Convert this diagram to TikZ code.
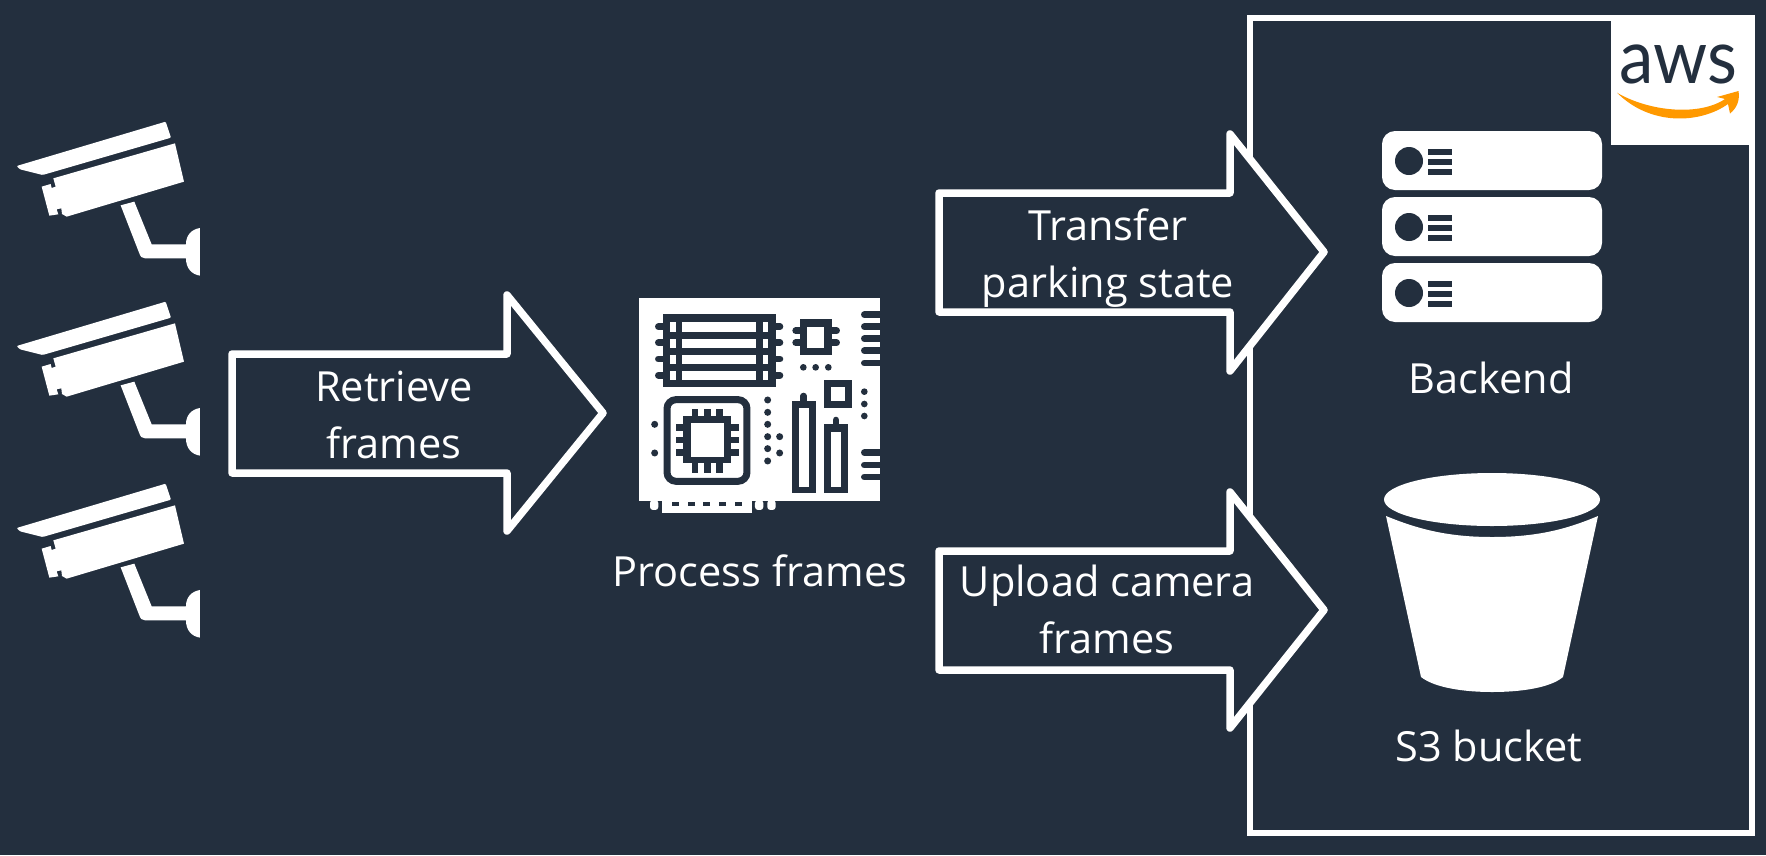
\documentclass[tikz,border=0pt]{standalone}
\usepackage{fontspec}
\setmainfont{Open Sans}
\newfontfamily\logofont{Lato}
\definecolor{ink}{HTML}{232F3E}
\definecolor{smile}{HTML}{FF9900}
\tikzset{
  blockarrow/.style={draw=white,fill=ink,line width=7.5pt,line join=round},
  label/.style={text=white,font=\fontsize{41.5}{57}\selectfont,align=center,inner sep=0pt},
  ink line/.style={draw=ink,line cap=round,line width=6.6pt},
}
\newcommand{\camicon}[2]{%
  \begin{scope}[shift={(0,#1)},x=0.3333pt,y=-0.3333pt]
    \coordinate (#2) at (300,300);
    \fill[white,rounded corners=1pt] (50,198) -- (497,65) -- (513,113) -- (128,225) -- (60,208) -- cycle;
    \fill[white] (160,235) -- (525,130) -- (552,245) -- (200,350) -- (186,342) -- (184,325) -- (170,328) -- (175,343) -- (148,347) -- (125,260) -- (152,252) -- (155,264) -- (167,260) -- cycle;
    \fill[white] (362,316) -- (403,305) -- (455,433) -- (558,433) .. controls (558,405) and (575,388) .. (600,384) -- (600,527) .. controls (575,523) and (558,505) .. (558,475) -- (435,475) .. controls (425,475) and (422,470) .. (418,460) -- cycle;
  \end{scope}}
\begin{document}
\begin{tikzpicture}[x=1pt,y=-1pt]
\useasboundingbox (0,0) rectangle (1766,855);
\fill[ink] (0,0) rectangle (1766,855);

% AWS box
\draw[white,line width=5.5pt] (1250,18) rectangle (1752,833);
\fill[white] (1611,15) rectangle (1755,145);
\node[inner sep=0pt,anchor=base,text=ink] (awstext) at (1678,83) {\logofont\fontsize{75}{75}\selectfont\scalebox{.92}[1]{aws}};
\fill[smile] (1617,92.7) .. controls (1650,112) and (1700,116) .. (1725,99) -- (1717,97) -- (1738.5,91) .. controls (1740,100) and (1737,108) .. (1730,113.5) -- (1728,104) .. controls (1700,124) and (1650,126) .. cycle;

% Cameras
\camicon{100}{cama}
\camicon{280}{camb}
\camicon{462}{camc}

% Board
\begin{scope}[shift={(620,280)},x=0.3333pt,y=-0.3333pt]
  \fill[white] (57,54) rectangle (780,664);
  \fill[white] (127,660) rectangle (395,700);
  \foreach \a in {90,405,442} \fill[white,rounded corners=3pt] (\a,660) -- (\a,690) -- (\a+25,690) -- (\a+25,660) -- cycle;
  \foreach \a in {155,203,250,298,346} \fill[ink] (\a,665) rectangle (\a+21,677);
  % ram
  \fill[ink] (130,102) rectangle (467,322);
  \foreach \a/\b in {127/155,176/203,224/252,273/301} {
    \fill[white] (150,\a) rectangle (167,\b);
    \fill[white] (187,\a) rectangle (408,\b);
    \fill[white] (428,\a) rectangle (445,\b);
  }
  \foreach \a in {140,188,237,286} {
    \draw[ink line] (115,\a) -- (130,\a);
    \draw[ink line] (467,\a) -- (480,\a);
  }
  % small chip
  \fill[ink] (540,117) rectangle (635,225);
  \fill[white] (560,140) rectangle (613,203);
  \foreach \a in {152,188} {
    \draw[ink line] (527,\a) -- (540,\a);
    \draw[ink line] (635,\a) -- (650,\a);
  }
  \foreach \a in {550,587,625} \fill[ink] (\a,262) circle (10);
  % edge contacts
  \foreach \a in {104,140,176,212,249,518,555,591} \draw[ink line] (733,\a) -- (780,\a);
  \fill[ink] (780,50) rectangle (805,670);
  % square
  \fill[ink] (613,300) rectangle (697,385);
  \fill[white] (634,322) rectangle (675,363);
  \foreach \a in {335,372,408} \fill[ink] (733,\a) circle (10);
  % cpu
  \draw[ink,line width=7pt,rounded corners=9pt] (141,359) rectangle (381,604);
  \fill[ink] (190,408) rectangle (333,550);
  \fill[white] (212,430) rectangle (312,530);
  \foreach \a in {225,262,298} {
    \fill[ink] (\a-10,387) rectangle (\a+10,408);
    \fill[ink] (\a-10,550) rectangle (\a+10,578);
  }
  \foreach \a in {443,480,517} {
    \fill[ink] (167,\a-10) rectangle (190,\a+10);
    \fill[ink] (333,\a-10) rectangle (358,\a+10);
  }
  \foreach \a/\b in {104/433,104/519,443/360,443/397,443/433,443/470,443/506,443/543,479/470,479/519} \fill[ink] (\a,\b) circle (10.5);
  % slots
  \fill[ink] (517,363) rectangle (587,640);
  \fill[white] (538,385) rectangle (566,620);
  \draw[ink line] (551,348) -- (551,363);
  \fill[ink] (613,433) rectangle (683,640);
  \fill[white] (634,455) rectangle (662,620);
  \draw[ink line] (648,420) -- (648,433);
\end{scope}

% Servers
\foreach \t in {131,197,263} {
  \fill[white,rounded corners=13pt] (1382,\t) rectangle (1602,\t+59);
  \fill[ink] (1409,\t+30) circle (14);
  \foreach \d in {20.5,30.5,40.5} \fill[ink] (1428,\t+\d-3) rectangle (1452,\t+\d+3);
}

% Bucket
\fill[white] (1492,499.5) ellipse (108 and 26.5);
\fill[white] (1386,516) .. controls (1420,530) and (1450,537) .. (1492,537) .. controls (1535,537) and (1565,530) .. (1598,516) -- (1563,677) .. controls (1550,688) and (1520,692) .. (1492,692) .. controls (1465,692) and (1435,688) .. (1421,677) -- cycle;

% Block arrows
\draw[blockarrow] (232,354) -- (507,354) -- (507,295) -- (603,413) -- (507,531) -- (507,473) -- (232,473) -- cycle;
\draw[blockarrow] (939,193) -- (1230,193) -- (1230,134) -- (1324,252) -- (1230,371) -- (1230,312) -- (939,312) -- cycle;
\draw[blockarrow] (939,551) -- (1230,551) -- (1230,492) -- (1324,610) -- (1230,728) -- (1230,670) -- (939,670) -- cycle;

% Labels
\node[label] (retrieve) at (394,415) {Retrieve\\frames};
\node[label] (transfer) at (1108,258) {Transfer\\parking state};
\node[label] (upload) at (1107,609) {Upload camera\\frames};
\node[label,anchor=base] (process) at (760,586) {Process frames};
\node[label,anchor=base] (backend) at (1491,393) {Backend};
\node[label,anchor=base] (s3) at (1489,761) {S3 bucket};
\end{tikzpicture}
\end{document}
